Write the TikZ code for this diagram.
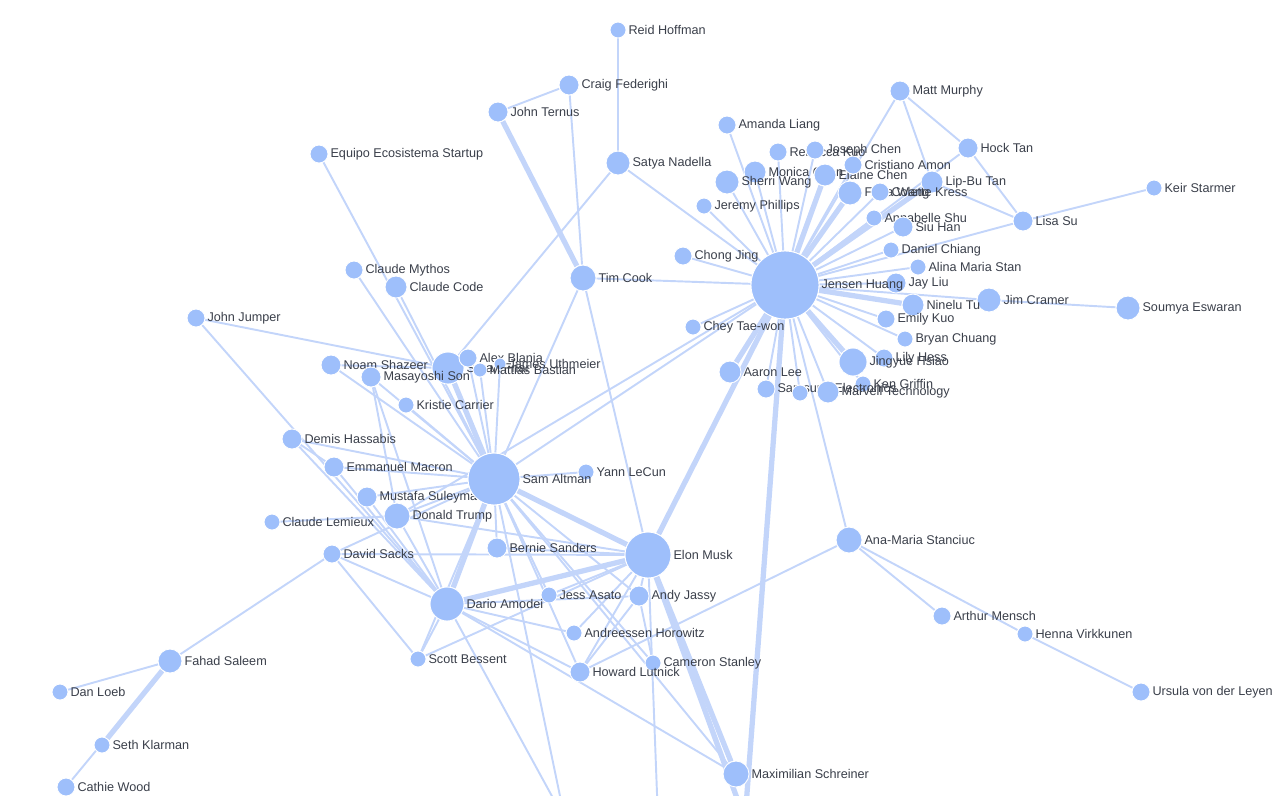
\documentclass[tikz,border=0pt]{standalone}
\usepackage{fontspec}
\setmainfont{Liberation Sans}
\usetikzlibrary{positioning}
\definecolor{dot}{HTML}{9EBFFB}
\definecolor{link}{HTML}{C3D5FA}
\definecolor{txt}{HTML}{3A3F4A}
\pgfdeclarelayer{bg}
\pgfsetlayers{bg,main}
\newcommand{\who}[5]{\node[person,minimum size=#4*0.04cm,label={[name label]right:{#5}}] (#1) at (#2,#3) {};}

\begin{document}
\begin{tikzpicture}
            [x=0.02cm, y=-0.02cm,
            person/.style={circle, fill=dot, draw=white, line width=0.5pt, inner sep=0pt},
            name label/.style={txt, font=\fontsize{7.2}{8}\selectfont, inner sep=1pt, xshift=0pt},
            tie/.style={draw=link, line width=1.1pt},
            bond/.style={draw=link, line width=3pt}]

            \useasboundingbox (0,0) rectangle (1288,795);
            \clip (0,0) rectangle (1288,795);

            % people
            \who{reid}{618}{30}{8}{Reid Hoffman}
            \who{craig}{569}{85}{10}{Craig Federighi}
            \who{ternus}{498}{112}{10}{John Ternus}
            \who{equipo}{319}{154}{9}{Equipo Ecosistema Startup}
            \who{satya}{618}{163}{12}{Satya Nadella}
            \who{amanda}{727}{125}{9}{Amanda Liang}
            \who{rebecca}{778}{152}{9}{Rebecca Kuo}
            \who{joseph}{815}{150}{9}{Joseph Chen}
            \who{monica}{755}{172}{11}{Monica Chen}
            \who{elaine}{825}{175}{11}{Elaine Chen}
            \who{sherri}{727}{182}{12}{Sherri Wang}
            \who{cristiano}{853}{165}{9}{Cristiano Amon}
            \who{murphy}{900}{91}{10}{Matt Murphy}
            \who{hock}{968}{148}{10}{Hock Tan}
            \who{lipbu}{932}{182}{11}{Lip-Bu Tan}
            \who{flora}{850}{193}{12}{Flora Wang}
            \who{colette}{880}{192}{9}{Colette Kress}
            \who{jeremy}{704}{206}{8}{Jeremy Phillips}
            \who{annabelle}{874}{218}{8}{Annabelle Shu}
            \who{siu}{903}{227}{10}{Siu Han}
            \who{keir}{1154}{188}{8}{Keir Starmer}
            \who{lisa}{1023}{221}{10}{Lisa Su}
            \who{daniel}{891}{250}{8}{Daniel Chiang}
            \who{alina}{918}{267}{8}{Alina Maria Stan}
            \who{chong}{683}{256}{9}{Chong Jing}
            \who{jay}{896}{283}{10}{Jay Liu}
            \who{timcook}{583}{278}{13}{Tim Cook}
            \who{mythos}{354}{270}{9}{Claude Mythos}
            \who{code}{396}{287}{11}{Claude Code}
            \who{cramer}{989}{300}{12}{Jim Cramer}
            \who{soumya}{1128}{308}{12}{Soumya Eswaran}
            \who{ninelu}{913}{305}{11}{Ninelu Tu}
            \who{jumper}{196}{318}{9}{John Jumper}
            \who{emily}{886}{319}{9}{Emily Kuo}
            \who{chey}{693}{327}{8}{Chey Tae-won}
            \who{bryan}{905}{339}{8}{Bryan Chuang}
            \who{noam}{331}{365}{10}{Noam Shazeer}
            \who{sarah}{448}{368}{16}{Sarah Friar}
            \who{alex}{468}{358}{9}{Alex Blania}
            \who{james}{500}{364}{6}{James Uthmeier}
            \who{mattias}{480}{370}{7}{Mattias Bastian}
            \who{son}{371}{377}{10}{Masayoshi Son}
            \who{lily}{884}{358}{9}{Lily Hess}
            \who{jingyue}{853}{362}{14}{Jingyue Hsiao}
            \who{aaron}{730}{372}{11}{Aaron Lee}
            \who{ken}{863}{384}{8}{Ken Griffin}
            \who{samsung}{766}{389}{9}{Samsung Electronics}
            \who{hedge}{800}{393}{8}{}
            \who{marvell}{828}{392}{11}{Marvell Technology}
            \who{kristie}{406}{405}{8}{Kristie Carrier}
            \who{demis}{292}{439}{10}{Demis Hassabis}
            \who{macron}{334}{467}{10}{Emmanuel Macron}
            \who{yann}{586}{472}{8}{Yann LeCun}
            \who{mustafa}{367}{497}{10}{Mustafa Suleyman}
            \who{trump}{397}{516}{13}{Donald Trump}
            \who{lemieux}{272}{522}{8}{Claude Lemieux}
            \who{bernie}{497}{548}{10}{Bernie Sanders}
            \who{stanciuc}{849}{540}{13}{Ana-Maria Stanciuc}
            \who{sacks}{332}{554}{9}{David Sacks}
            \who{jess}{549}{595}{8}{Jess Asato}
            \who{jassy}{639}{596}{10}{Andy Jassy}
            \who{a16z}{574}{633}{8}{Andreessen Horowitz}
            \who{mensch}{942}{616}{9}{Arthur Mensch}
            \who{henna}{1025}{634}{8}{Henna Virkkunen}
            \who{bessent}{418}{659}{8}{Scott Bessent}
            \who{stanley}{653}{663}{8}{Cameron Stanley}
            \who{lutnick}{580}{672}{10}{Howard Lutnick}
            \who{fahad}{170}{661}{12}{Fahad Saleem}
            \who{loeb}{60}{692}{8}{Dan Loeb}
            \who{ursula}{1141}{692}{9}{Ursula von der Leyen}
            \who{seth}{102}{745}{8}{Seth Klarman}
            \who{cathie}{66}{787}{9}{Cathie Wood}
            \who{schreiner}{736}{774}{13}{Maximilian Schreiner}
            \who{jensen}{785}{285}{34}{Jensen Huang}
            \who{altman}{494}{479}{26}{Sam Altman}
            \who{musk}{648}{555}{23}{Elon Musk}
            \who{amodei}{447}{604}{17}{Dario Amodei}
            \coordinate (offa) at (565,820);
            \coordinate (offb) at (658,820);
            \coordinate (offc) at (745,820);

            \begin{pgfonlayer}{bg}
            % thin ties
            \foreach \a/\b in {jensen/amanda,jensen/rebecca,jensen/joseph,jensen/monica,jensen/sherri,
                jensen/cristiano,jensen/murphy,jensen/hock,jensen/colette,jensen/jeremy,jensen/annabelle,
                jensen/siu,jensen/lisa,jensen/daniel,jensen/alina,jensen/chong,jensen/jay,jensen/timcook,
                jensen/emily,jensen/chey,jensen/bryan,jensen/lily,jensen/ken,jensen/samsung,jensen/hedge,
                jensen/marvell,jensen/satya,jensen/altman,jensen/stanciuc,jensen/trump,jensen/cramer,
                murphy/lipbu,murphy/hock,hock/lisa,lisa/keir,lisa/lipbu,cramer/soumya,
                stanciuc/mensch,stanciuc/henna,henna/ursula,stanciuc/lutnick,
                reid/satya,craig/timcook,craig/ternus,satya/sarah,timcook/altman,timcook/musk,
                equipo/altman,mythos/altman,code/altman,jumper/sarah,jumper/amodei,noam/altman,noam/sarah,
                son/altman,son/trump,son/amodei,kristie/altman,demis/altman,demis/amodei,demis/macron,
                macron/altman,macron/amodei,mustafa/altman,mustafa/amodei,trump/altman,trump/amodei,trump/musk,
                lemieux/trump,sacks/altman,sacks/amodei,sacks/fahad,sacks/musk,sacks/bessent,
                fahad/loeb,fahad/cathie,bernie/altman,bernie/musk,yann/altman,
                altman/jassy,altman/jess,altman/lutnick,altman/schreiner,altman/bessent,altman/offa,altman/stanley,
                musk/jassy,musk/lutnick,musk/bessent,musk/jess,musk/offb,
                amodei/jassy,amodei/a16z,amodei/lutnick,amodei/bessent,amodei/schreiner,amodei/offa,
                jassy/lutnick,jassy/stanley,a16z/musk,alex/altman,james/altman,mattias/altman}
                \draw[tie] (\a) -- (\b);
            % heavy bonds
            \foreach \a/\b in {jensen/elaine,jensen/flora,jensen/lipbu,jensen/ninelu,jensen/jingyue,jensen/aaron,
                jensen/musk,jensen/offc,ternus/timcook,fahad/seth,sarah/altman,
                altman/musk,altman/amodei,amodei/musk,musk/schreiner,musk/offc}
                \draw[bond] (\a) -- (\b);
            \end{pgfonlayer}
        \end{tikzpicture}
\end{document}
